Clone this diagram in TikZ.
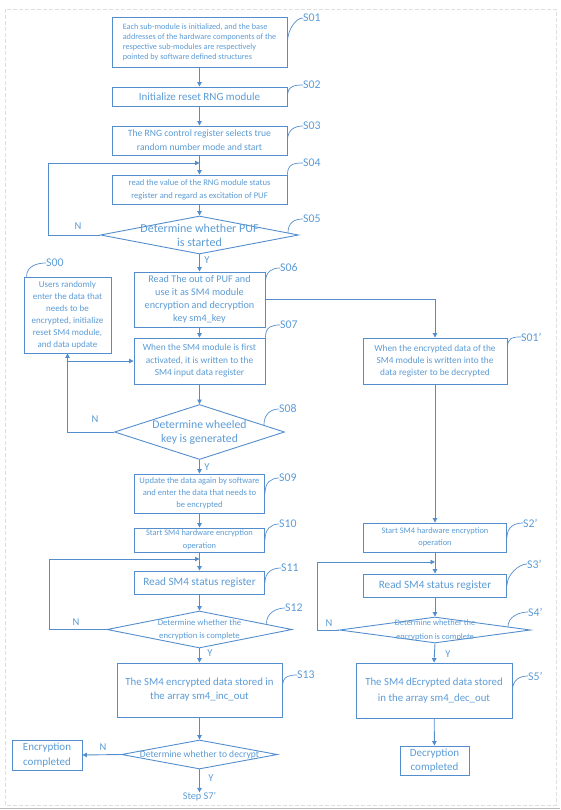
\documentclass[tikz,border=0pt]{standalone}
\usepackage{fontspec}
\setmainfont{Carlito}
\usetikzlibrary{shapes.geometric,arrows.meta,calc}
\definecolor{ln}{RGB}{84,141,206}
\definecolor{tx}{RGB}{91,155,213}
\newcommand{\fsz}[2]{\fontsize{#1}{#2}\selectfont}
\newcommand{\mycallout}[2]{\draw[cur] (#1) .. controls +(0,-11) and +(-8,0) .. (#2.west);}
\begin{document}
\begin{tikzpicture}[x=1pt,y=-1pt,
  box/.style={draw=ln, line width=0.9pt, inner sep=1pt, text=tx, align=center},
  dia/.style={diamond, draw=ln, line width=0.9pt, inner sep=0pt},
  txt/.style={text=tx, align=center, inner sep=0pt},
  arr/.style={draw=ln, line width=0.9pt, -{Triangle[width=4.5pt,length=4.5pt]}},
  pl/.style={draw=ln, line width=0.9pt},
  cur/.style={draw=ln, line width=0.7pt},
  lbl/.style={text=tx, font=\fsz{11.8}{13}, anchor=west, inner sep=0pt},
  yn/.style={text=tx, font=\fsz{10.5}{12}, inner sep=0pt}]
\useasboundingbox (0,0) rectangle (560,810);
\draw[gray!25, line width=0.8pt, dash pattern=on 4pt off 2pt] (5,9) rectangle (556,805);
\draw[gray!55, line width=1.5pt] (0,808.5) -- (560,808.5);

% left column
\node[box, minimum width=175, minimum height=50, align=left, font=\fsz{8.2}{10}] (s01) at (199.5,42) {Each sub-module is initialized, and the base\\addresses of the hardware components of the\\respective sub-modules are respectively\\pointed by software defined structures};
\node[box, minimum width=175, minimum height=19, font=\fsz{11}{12}] (s02) at (199.5,96.5) {Initialize reset RNG module};
\node[box, minimum width=175, minimum height=29, font=\fsz{9.6}{14}] (s03) at (199.5,140.5) {The RNG control register selects true\\random number mode and start};
\node[box, minimum width=175, minimum height=29, font=\fsz{8.6}{13}] (s04) at (199.5,189.5) {read the value of the RNG module status\\register and regard as excitation of PUF};
\node[dia, minimum width=198, minimum height=38] (s05) at (199.5,235) {};
\node[txt, font=\fsz{12}{14}] (t05) at (s05) {Determine whether PUF\\is started};
\node[box, minimum width=131, minimum height=55, font=\fsz{10.2}{13}] (s06) at (199.5,299.5) {Read The out of PUF and\\use it as SM4 module\\encryption and decryption\\key sm4\_key};
\node[box, minimum width=131, minimum height=46, font=\fsz{9.4}{12.5}] (s07) at (199.5,361) {When the SM4 module is first\\activated, it is written to the\\SM4 input data register};
\node[box, minimum width=87, minimum height=76, font=\fsz{9}{12}] (s00) at (67.5,315) {Users randomly\\enter the data that\\needs to be\\encrypted, initialize\\reset SM4 module,\\and data update};
\node[dia, minimum width=170, minimum height=55] (s08) at (199.5,432) {};
\node[txt, font=\fsz{11.7}{14}] (t08) at (s08) {Determine wheeled\\key is generated};
\node[box, minimum width=130, minimum height=39, font=\fsz{8.6}{12}] (s09) at (199.5,493.5) {Update the data again by software\\and enter the data that needs to\\be encrypted};
\node[box, minimum width=130, minimum height=24, font=\fsz{8.4}{12.5}] (s10) at (199.5,540) {Start SM4 hardware encryption\\operation};
\node[box, minimum width=130, minimum height=23, font=\fsz{11.2}{12}] (s11) at (199.5,582.5) {Read SM4 status register};
\node[dia, minimum width=185, minimum height=37] (s12) at (199.5,629.5) {};
\node[txt, font=\fsz{8.7}{13}] (t12) at (s12) {Determine whether the\\encryption is complete};
\node[box, minimum width=165, minimum height=54, font=\fsz{10.8}{14}] (s13) at (199.5,690) {The SM4 encrypted data stored in\\the array sm4\_inc\_out};
\node[dia, minimum width=156, minimum height=29] (s14) at (199.5,754.5) {};
\node[txt, font=\fsz{9.6}{12}] (t14) at (s14) {Determine whether to decrypt};
\node[box, minimum width=70, minimum height=30, font=\fsz{11}{15}] (enc) at (47,755) {Encryption\\completed};
\node[txt, font=\fsz{10.3}{12}] (step) at (199.5,797) {Step S7'};

% right column
\node[box, minimum width=144, minimum height=46, font=\fsz{9.3}{12}] (s01p) at (435,361) {When the encrypted data of the\\SM4 module is written into the\\data register to be decrypted};
\node[box, minimum width=143, minimum height=29, font=\fsz{8.4}{12}] (s2p) at (435,537.5) {Start SM4 hardware encryption\\operation};
\node[box, minimum width=143, minimum height=23, font=\fsz{11.2}{12}] (s3p) at (435,585.5) {Read SM4 status register};
\node[dia, minimum width=191, minimum height=26] (s4p) at (435,630) {};
\node[txt, font=\fsz{8.4}{14}] (t4p) at (s4p) {Determine whether the\\encryption is complete};
\node[box, minimum width=156, minimum height=55, font=\fsz{10.8}{16}] (s5p) at (434,690.5) {The SM4 dEcrypted data stored\\in the array sm4\_dec\_out};
\node[box, minimum width=69, minimum height=29, font=\fsz{11}{14}] (dec) at (434.5,760.5) {Decryption\\completed};

% step labels
\node[lbl] (l01) at (303,18) {S01};
\node[lbl] (l02) at (303,85) {S02};
\node[lbl] (l03) at (303,126) {S03};
\node[lbl] (l04) at (303,163) {S04};
\node[lbl] (l05) at (303,219) {S05};
\node[lbl] (l06) at (280,268) {S06};
\node[lbl] (l07) at (280,325) {S07};
\node[lbl] (l00) at (46,263) {S00};
\node[lbl] (l08) at (279,409) {S08};
\node[lbl] (l09) at (279,478) {S09};
\node[lbl] (l10) at (279,524) {S10};
\node[lbl] (l11) at (281,568) {S11};
\node[lbl] (l12) at (285,608) {S12};
\node[lbl] (l13) at (297,675) {S13};
\node[lbl] (l01p) at (521,337) {S01'};
\node[lbl] (l2p) at (523,523) {S2'};
\node[lbl] (l3p) at (527,564) {S3’};
\node[lbl] (l4p) at (528,612) {S4'};
\node[lbl] (l5p) at (528,676) {S5'};

\mycallout{s01.east}{l01}
\mycallout{s02.east}{l02}
\mycallout{s03.east}{l03}
\mycallout{s04.north east}{l04}
\mycallout{$(s05.east)+(-11,-2)$}{l05}
\mycallout{$(s06.east)+(0,-17)$}{l06}
\mycallout{s07.north east}{l07}
\mycallout{$(s00.north west)+(3,0)$}{l00}
\mycallout{$(s08.east)+(-21,-7)$}{l08}
\mycallout{s09.east}{l09}
\mycallout{s10.east}{l10}
\mycallout{s11.east}{l11}
\mycallout{$(s12.east)+(-26,-6)$}{l12}
\mycallout{$(s13.east)+(0,-3)$}{l13}
\mycallout{$(s01p.east)+(0,-13)$}{l01p}
\mycallout{s2p.east}{l2p}
\mycallout{s3p.east}{l3p}
\mycallout{$(s4p.east)+(-23,-3)$}{l4p}
\mycallout{s5p.east}{l5p}

% junctions
\coordinate (j04) at (199.5,163);
\coordinate (j10) at (199.5,559);
\coordinate (j2p) at (435,562);
\coordinate (j00) at (s00.south |- s07.west);

% connectors left
\draw[arr] (s01) -- (s02);
\draw[arr] (s02) -- (s03);
\draw[arr] (s03) -- (s04);
\draw[arr] (s04) -- (s05);
\draw[arr] (s05.south) -- (s06.north);
\draw[arr] (s05.west) -- ++(-52,0) |- (j04);
\draw[arr] (s06) -- (s07);
\draw[arr] (s06.east) -| (s01p.north);
\draw[arr] (s07.south) -- (s08.north);
\draw[arr] (s08.west) -| (s00.south);
\draw[arr] (j00) -- (s07.west);
\draw[arr] (s08.south) -- (s09.north);
\draw[arr] (s09) -- (s10);
\draw[arr] (s10) -- (s11);
\draw[arr] (s12.west) -- ++(-57,0) |- (j10);
\draw[arr] (s11.south) -- (s12.north);
\draw[arr] (s12.south) -- (s13.north);
\draw[arr] (s13.south) -- (s14.north);
\draw[arr] (s14.west) -- (enc.east);
\draw[arr] (s14.south) -- (step.north);
% connectors right
\draw[arr] (s01p) -- (s2p);
\draw[arr] (s2p) -- (s3p);
\draw[arr] (s4p.west) -- ++(-22,0) |- (j2p);
\draw[arr] (s3p.south) -- (s4p.north);
\draw[arr] (s4p.south) -- (s5p.north);
\draw[arr] (s5p) -- (dec);

% Y / N
\node[yn] (n05) at (78,226) {N};
\node[yn] (y05) at (207,260) {Y};
\node[yn] (n08) at (95,419) {N};
\node[yn] (y08) at (207,467) {Y};
\node[yn] (n12) at (76,622) {N};
\node[yn] (y12) at (210,653) {Y};
\node[yn] (n14) at (103,747) {N};
\node[yn] (y14) at (211,778) {Y};
\node[yn] (n4p) at (329,623) {N};
\node[yn] (y4p) at (448,654) {Y};
\end{tikzpicture}
\end{document}
